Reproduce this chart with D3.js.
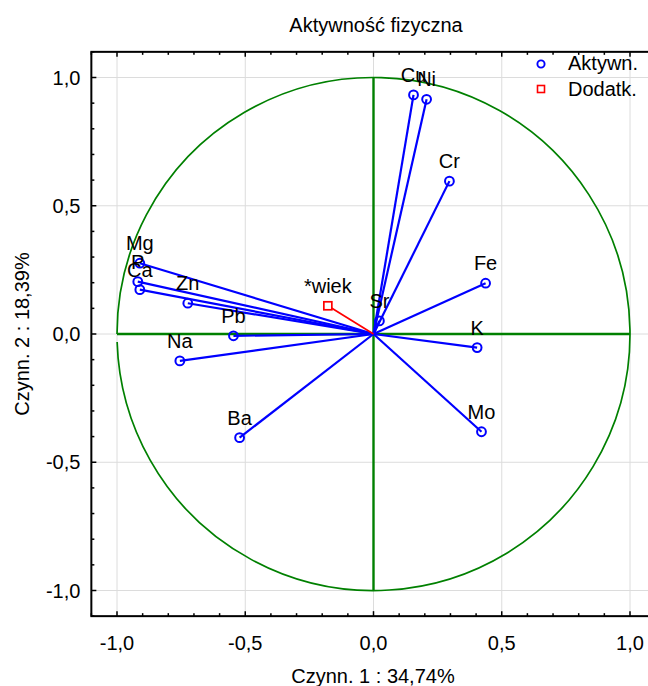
<!DOCTYPE html>
<html>
<head>
<meta charset="utf-8">
<script src="https://cdn.jsdelivr.net/npm/d3@7"></script>
<style>
  html, body { margin: 0; padding: 0; background: #fff; }
  svg { display: block; font-family: "Liberation Sans", Arial, sans-serif; }
</style>
</head>
<body>
<svg id="chart" width="648" height="686"></svg>
<script>
// Factor loadings of active variables (factor 1, factor 2)
const activeNames = ["Cu", "Ni", "Cr", "Fe", "K", "Sr", "Mo", "Ba", "Mg", "P", "Ca", "Zn", "Pb", "Na"];
const activeF1 = [0.156, 0.207, 0.296, 0.437, 0.404, 0.023, 0.421, -0.522, -0.911, -0.919, -0.911, -0.724, -0.546, -0.755];
const activeF2 = [0.932, 0.915, 0.596, 0.198, -0.053, 0.051, -0.381, -0.404, 0.276, 0.204, 0.173, 0.120, -0.007, -0.105];

// Supplementary variable
const suppNames = ["*wiek"];
const suppF1 = [-0.178];
const suppF2 = [0.110];

const majorTicks = [-1.0, -0.5, 0.0, 0.5, 1.0];
const tickLabels = ["-1,0", "-0,5", "0,0", "0,5", "1,0"];
const legendLabels = ["Aktywn.", "Dodatk."];

const title = "Aktywność fizyczna";
const xTitle = "Czynn. 1 : 34,74%";
const yTitle = "Czynn. 2 : 18,39%";

const FS = 20;
const svg = d3.select("#chart");
const cx = 373.5, cy = 334, unit = 256.5;

const x = d3.scaleLinear().domain([-1.1, 1.1]).range([cx - 1.1 * unit, cx + 1.1 * unit]);
const y = d3.scaleLinear().domain([-1.1, 1.1]).range([cy + 1.1 * unit, cy - 1.1 * unit]);

const [x0, x1] = x.range();
const [y0, y1] = [y(1.1), y(-1.1)];

// Grid
const grid = svg.append("g").attr("stroke", "#dcdcdc").attr("stroke-width", 1);
majorTicks.forEach(t => {
  grid.append("line").attr("x1", x(t)).attr("x2", x(t)).attr("y1", y0).attr("y2", y1);
  grid.append("line").attr("x1", x0).attr("x2", x1).attr("y1", y(t)).attr("y2", y(t));
});

// Unit circle (traced as an open polyline-style arc, leaving a small seam at the left) and reference axes
const green = "#008000";
const r = x(1) - x(0);
const seam = 0.031;
const circlePath = d3.path();
circlePath.moveTo(x(0) - r, y(0));
circlePath.arc(x(0), y(0), r, Math.PI, 3 * Math.PI - seam, false);
svg.append("path").attr("d", circlePath.toString())
  .attr("fill", "none").attr("stroke", green).attr("stroke-width", 1.7);
svg.append("line").attr("x1", x(-1)).attr("x2", x(1)).attr("y1", y(0)).attr("y2", y(0))
  .attr("stroke", green).attr("stroke-width", 2.4);
svg.append("line").attr("x1", x(0)).attr("x2", x(0)).attr("y1", y(1)).attr("y2", y(-1))
  .attr("stroke", green).attr("stroke-width", 2.4);

// Vectors
const active = activeNames.map((n, i) => ({ name: n, f1: activeF1[i], f2: activeF2[i] }));
const supp = suppNames.map((n, i) => ({ name: n, f1: suppF1[i], f2: suppF2[i] }));

svg.append("g").selectAll("line").data(active).join("line")
  .attr("x1", x(0)).attr("y1", y(0))
  .attr("x2", d => x(d.f1)).attr("y2", d => y(d.f2))
  .attr("stroke", "#0000ff").attr("stroke-width", 2.2);
svg.append("g").selectAll("line").data(supp).join("line")
  .attr("x1", x(0)).attr("y1", y(0))
  .attr("x2", d => x(d.f1)).attr("y2", d => y(d.f2))
  .attr("stroke", "#ff0000").attr("stroke-width", 1.7);

// Markers
svg.append("g").selectAll("circle").data(active).join("circle")
  .attr("cx", d => x(d.f1)).attr("cy", d => y(d.f2)).attr("r", 4.4)
  .attr("fill", "none").attr("stroke", "#0000ff").attr("stroke-width", 2);
svg.append("g").selectAll("rect").data(supp).join("rect")
  .attr("x", d => x(d.f1) - 4).attr("y", d => y(d.f2) - 4)
  .attr("width", 8).attr("height", 8)
  .attr("fill", "#fff").attr("stroke", "#ff0000").attr("stroke-width", 1.7);

// Point labels
svg.append("g").selectAll("text").data(active.concat(supp)).join("text")
  .attr("x", d => x(d.f1)).attr("y", d => y(d.f2) - 13)
  .attr("text-anchor", "middle").attr("font-size", FS).attr("fill", "#000")
  .text(d => d.name);

// Frame with inward ticks
const axes = svg.append("g");
const minor = d3.range(-11, 12).map(v => v / 10);
axes.append("rect").attr("x", x0).attr("y", y0).attr("width", x1 - x0).attr("height", y1 - y0)
  .attr("fill", "none").attr("stroke", "#000").attr("stroke-width", 2);

const isMajor = v => Math.abs(v * 2 - Math.round(v * 2)) < 1e-9;
const tickG = axes.append("g").attr("stroke", "#000").attr("stroke-width", 1.5);
minor.forEach(v => {
  const len = isMajor(v) ? 5 : 3;
  tickG.append("line").attr("x1", x(v)).attr("x2", x(v)).attr("y1", y1).attr("y2", y1 - len);
  tickG.append("line").attr("x1", x(v)).attr("x2", x(v)).attr("y1", y0).attr("y2", y0 + len);
  tickG.append("line").attr("x1", x0).attr("x2", x0 + len).attr("y1", y(v)).attr("y2", y(v));
});

// Tick labels
const fmt = d3.scaleOrdinal().domain(majorTicks).range(tickLabels);
axes.append("g").selectAll("text").data(majorTicks).join("text")
  .attr("x", d => x(d)).attr("y", y1 + 34)
  .attr("text-anchor", "middle").attr("font-size", FS).text(d => fmt(d));
axes.append("g").selectAll("text").data(majorTicks).join("text")
  .attr("x", x0 - 11).attr("y", d => y(d) + 7)
  .attr("text-anchor", "end").attr("font-size", FS).text(d => fmt(d));

// Titles
svg.append("text").attr("x", 376).attr("y", 32).attr("text-anchor", "middle")
  .attr("font-size", FS).text(title);
svg.append("text").attr("x", 373).attr("y", 683).attr("text-anchor", "middle")
  .attr("font-size", FS).text(xTitle);
svg.append("text").attr("transform", `translate(29,${cy}) rotate(-90)`)
  .attr("text-anchor", "middle").attr("font-size", FS).text(yTitle);

// Legend
const lg = svg.append("g");
lg.append("circle").attr("cx", 541).attr("cy", 64).attr("r", 3.6)
  .attr("fill", "none").attr("stroke", "#0000ff").attr("stroke-width", 1.9);
lg.append("rect").attr("x", 537.5).attr("y", 85.5).attr("width", 7).attr("height", 7)
  .attr("fill", "#fff").attr("stroke", "#ff0000").attr("stroke-width", 1.6);
lg.selectAll("text").data(legendLabels).join("text")
  .attr("x", 568).attr("y", (d, i) => 69.5 + i * 26).attr("font-size", FS).text(d => d);
</script>
</body>
</html>
